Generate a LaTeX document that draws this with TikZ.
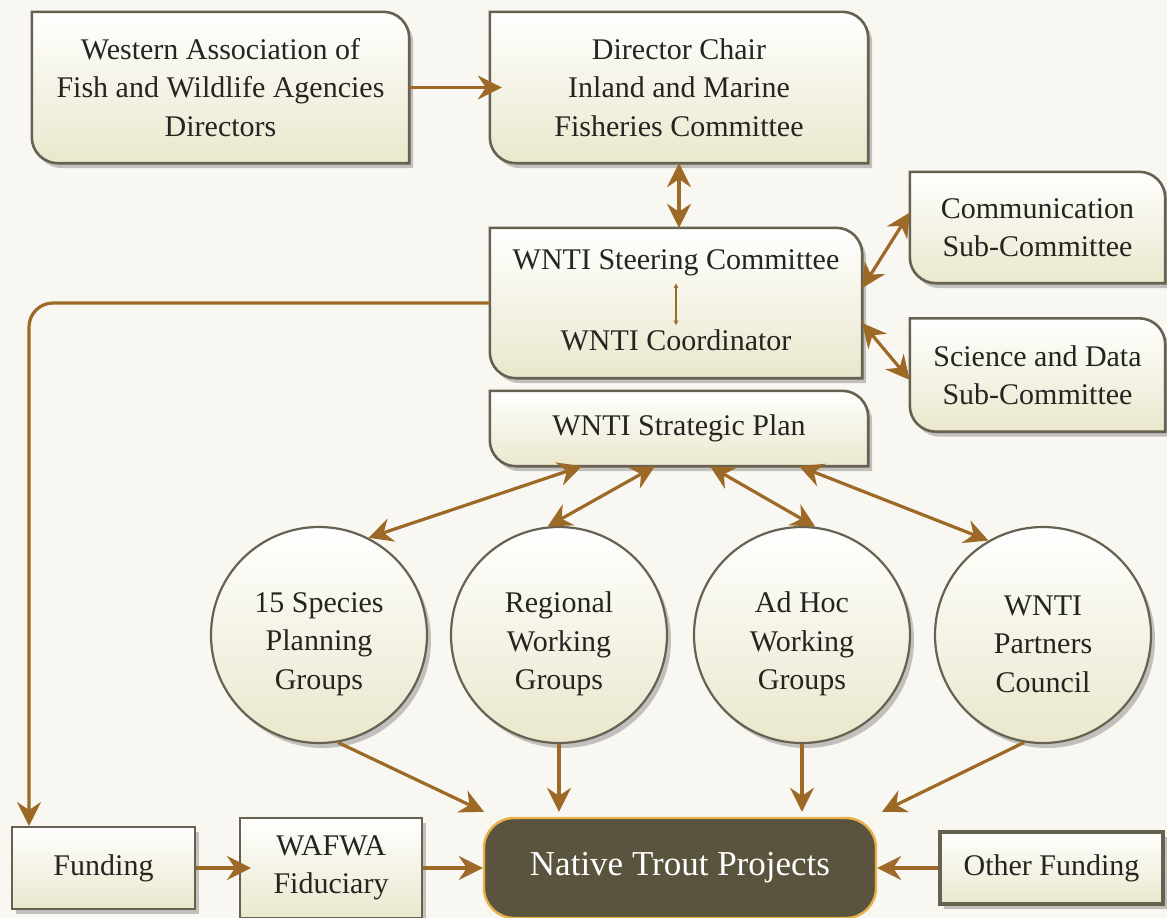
\documentclass[tikz,border=0pt]{standalone}
\usepackage{fontspec}
\setmainfont{Liberation Serif}
\usetikzlibrary{arrows.meta,shadows}

\definecolor{linkbrown}{RGB}{156,106,38}
\definecolor{boxgray}{RGB}{102,97,80}
\definecolor{boxbeige}{RGB}{234,231,205}
\definecolor{pagetone}{RGB}{248,247,241}
\definecolor{inkgray}{RGB}{38,36,32}
\definecolor{hubfill}{RGB}{90,84,62}
\definecolor{hubedge}{RGB}{232,178,74}

\pgfdeclarelayer{back}
\pgfdeclarelayer{boxes}
\pgfsetlayers{back,boxes,main}

% box with two rounded corners (top right, bottom left)
\newcommand\leafr{26pt}
\newcommand\leafbox[1]{%
  \path[leaf] (#1.north west) -- ([xshift=-\leafr]#1.north east)
    arc[start angle=90,end angle=0,radius=\leafr] -- (#1.south east)
    -- ([xshift=\leafr]#1.south west)
    arc[start angle=270,end angle=180,radius=\leafr] -- cycle;}

\begin{document}
\begin{tikzpicture}[x=1pt,y=-1pt,
    font=\fontsize{30}{38.5}\selectfont, text=inkgray,
    boxshadow/.style={drop shadow={shadow xshift=4pt,shadow yshift=-5pt,fill=black,opacity=.22}},
    leafnode/.style={rectangle,inner sep=0pt,align=center},
    boxtext/.style={inner sep=0pt,align=center},
    textlift/.style={inner sep=0pt,align=center,yshift=-9pt},
    leaf/.style={draw=boxgray,line width=2.6pt,top color=white,bottom color=boxbeige,boxshadow},
    group/.style={circle,minimum size=216pt,inner sep=0pt,draw=boxgray,
      line width=2.2pt,top color=white,bottom color=boxbeige,boxshadow},
    flatbox/.style={rectangle,inner sep=0pt,align=center,draw=boxgray,line width=2pt,
      top color=white,bottom color=boxbeige,boxshadow},
    hub/.style={rectangle,rounded corners=30pt,inner sep=0pt,draw=hubedge,line width=2.4pt,
      fill=hubfill,text=white,font=\fontsize{35}{40}\selectfont},
    link/.style={draw=linkbrown,line width=3.2pt,-{Stealth[length=24pt,width=24pt,inset=8pt]}},
    duplex/.style={link,{Stealth[length=24pt,width=24pt,inset=8pt]}-{Stealth[length=24pt,width=24pt,inset=8pt]}},
    overlap/.style={shorten >=-12pt},
    tinylink/.style={draw=linkbrown,line width=1.2pt,{Stealth[length=5pt,width=5pt]}-{Stealth[length=5pt,width=5pt]}}]
  \useasboundingbox (0,0) rectangle (1167,918);
  \begin{pgfonlayer}{back}
    \fill[pagetone] (0,0) rectangle (1167,918);
  \end{pgfonlayer}

  % ---------------
  % the upper boxes
  % ---------------
  \node[leafnode,minimum width=377pt,minimum height=151pt] (wafwa) at (220.5,87.5)
    {Western Association of\\Fish and Wildlife Agencies\\Directors};
  \node[leafnode,minimum width=378pt,minimum height=151pt] (chair) at (679,87.5)
    {Director Chair\\Inland and Marine\\Fisheries Committee};
  \node[leafnode,minimum width=372pt,minimum height=150pt] (steer) at (676,303) {};
  \node[boxtext] (steertop) at (676,263) {WNTI Steering Committee};
  \node[boxtext] (steerbot) at (676,340) {WNTI Coordinator};
  \node[leafnode,minimum width=255pt,minimum height=111pt] (comm) at (1037.5,227.5)
    {Communication\\Sub-Committee};
  \node[leafnode,minimum width=255pt,minimum height=113pt] (sci) at (1037.5,375)
    {Science and Data\\Sub-Committee};
  \node[leafnode,minimum width=378pt,minimum height=75pt] (plan) at (679,428.5)
    {WNTI Strategic Plan};
  \begin{pgfonlayer}{boxes}
    \foreach \b in {wafwa,chair,steer,comm,sci,plan}{\leafbox{\b}}
  \end{pgfonlayer}

  % ----------
  % the groups
  % ----------
  \node[group,label={[textlift]center:{15 Species\\Planning\\Groups}}] (sp) at (319,635) {};
  \node[group,label={[textlift]center:{Regional\\Working\\Groups}}] (rg) at (559,635) {};
  \node[group,label={[textlift]center:{Ad Hoc\\Working\\Groups}}] (ah) at (802,635) {};
  \node[group,label={[textlift]center:{WNTI\\Partners\\Council}}] (pc) at (1043,635) {};

  % -------------
  % the lower row
  % -------------
  \node[flatbox,minimum width=183pt,minimum height=82pt] (funding) at (103.5,868) {Funding};
  \node[flatbox,minimum width=182pt,minimum height=100pt] (fiduc) at (331,868) {WAFWA\\Fiduciary};
  \node[hub,minimum width=392pt,minimum height=100pt] (native) at (680,868) {Native Trout Projects};
  \node[flatbox,line width=3.6pt,minimum width=223pt,minimum height=72pt] (other) at (1051.5,868)
    {Other Funding};

  % --------------
  % the connectors
  % --------------
  \draw[link,overlap] (wafwa) -- (chair);
  \draw[duplex] (chair.south) -- (chair.south |- steer.north);
  \draw[tinylink,shorten <=7pt,shorten >=4pt] (steertop) -- (steerbot);
  \draw[duplex] ([yshift=15pt]steer.east) -- ([yshift=15pt]comm.west);
  \draw[duplex] ([yshift=-20pt]steer.east) -- ([yshift=-5pt]sci.west);
  \draw[link,rounded corners=24pt] (steer.west) -| ([xshift=18pt]funding.north west);
  \foreach \dx/\g/\a in {-97/sp/63,-24/rg/96,31/ah/83,120/pc/120}{
    \draw[duplex] ([xshift=\dx pt]plan.south) -- (\g.\a);
  }
  \draw[link] (sp.-80) -- ([xshift=-196pt,yshift=5pt]native.north);
  \draw[link,shorten >=5pt] (rg.south) -- (rg.south |- native.north);
  \draw[link,shorten >=5pt] (ah.south) -- (ah.south |- native.north);
  \draw[link] (pc.-100) -- ([xshift=202pt,yshift=5pt]native.north);
  \draw[link,overlap] (funding) -- (fiduc);
  \draw[link] (fiduc) -- (native);
  \draw[link] (other) -- (native);
\end{tikzpicture}
\end{document}
